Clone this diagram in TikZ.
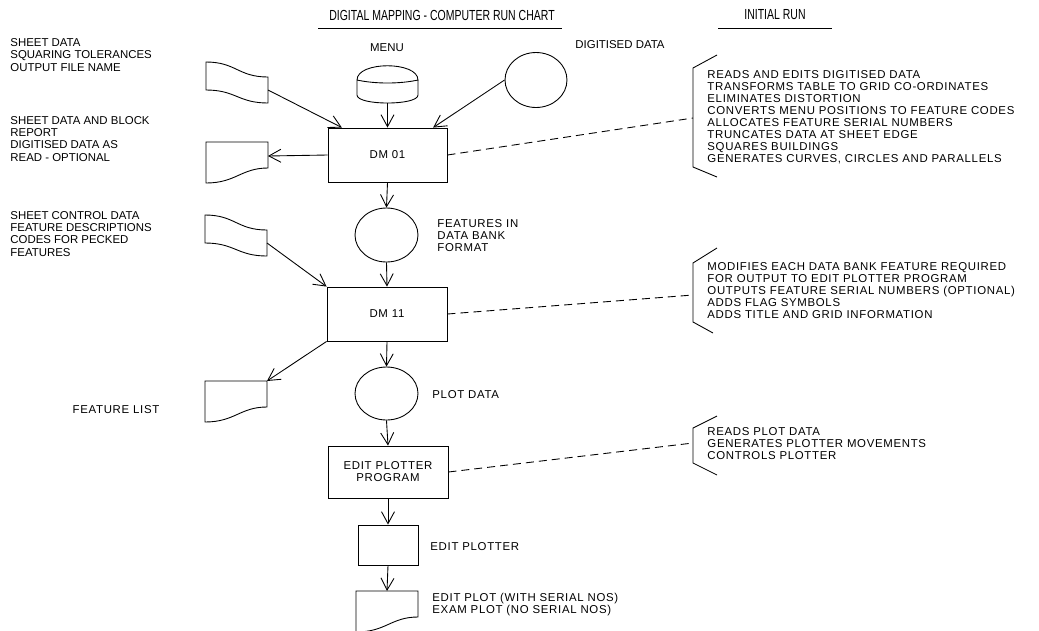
\documentclass[tikz,border=0pt]{standalone}
\usepackage{fontspec}
\newfontfamily\plotfont{Liberation Sans}
\newfontfamily\widefont[LetterSpace=6]{Liberation Sans}
\newfontfamily\titlefont[FakeStretch=0.72]{Liberation Sans}
\usetikzlibrary{arrows.meta,shapes.geometric}
\tikzstyle{txt}=[font=\plotfont\fontsize{6.5}{7}\selectfont,inner sep=0pt,align=left]
\tikzstyle{rtxt}=[font=\widefont\fontsize{6.5}{6.83}\selectfont,inner sep=0pt,align=left]
\tikzstyle{ttl}=[font=\titlefont\fontsize{8.3}{9}\selectfont,inner sep=0pt]
\tikzstyle{box}=[rectangle,draw,inner sep=0pt,font=\widefont\fontsize{6.5}{6.83}\selectfont,align=center]
\tikzstyle{store}=[ellipse,draw,inner sep=0pt]
\tikzstyle{arr}=[->,>={Straight Barb[length=2.4mm,width=2.6mm]},draw]
\tikzstyle{dsh}=[draw,dash pattern=on 1.6mm off 1mm]
\tikzset{
  tape/.pic={
    \draw (0,0) .. controls (30,0) and (32,15) .. (62,15) -- (62,41)
      .. controls (32,41) and (30,28) .. (0,28) -- cycle;
    \coordinate (-out) at (62,28);
  },
  doc/.pic={
    \draw (0,0) -- (62,0) -- (62,26) .. controls (35,26) and (30,41) .. (0,41) -- cycle;
    \coordinate (-ne) at (62,0);
    \coordinate (-e) at (62,14);
    \coordinate (-n) at (31,0);
  }
}

\begin{document}
\begin{tikzpicture}[x=0.02cm,y=-0.02cm,line width=0.5pt]
  \useasboundingbox (0,0) rectangle (1039,630);
  % headings
  \node[ttl] (title) at (442,15) {DIGITAL MAPPING - COMPUTER RUN CHART};
  \node[ttl] (run) at (775,15) {INITIAL RUN};
  \draw (318,28) -- (562,28);
  \draw (718,28) -- (832,28);

  % inputs and outputs
  \pic (in1) at (206,62) {tape};
  \pic (out1) at (206,142) {doc};
  \pic (in2) at (205,215) {tape};
  \pic (out2) at (205,381) {doc};
  \pic (out3) at (356,591) {doc};
  \draw (357,80) .. controls (357,61) and (418,61) .. (418,80)
        .. controls (400,84) and (375,84) .. (357,80) -- (357,95)
        .. controls (357,105.7) and (418,105.7) .. (418,95) -- (418,80);
  \coordinate (menu) at (387.5,103);

  % run chart
  \node[box,minimum width=23.8mm,minimum height=10.8mm] (dm01) at (387.5,155) {DM 01};
  \node[box,minimum width=24mm,minimum height=10.8mm] (dm11) at (387,314) {DM 11};
  \node[box,minimum width=24mm,minimum height=10.4mm] (edp) at (388,472) {EDIT PLOTTER\\PROGRAM};
  \node[box,minimum width=12mm,minimum height=8mm] (ep) at (388,545) {};
  \node[store,minimum width=12.4mm,minimum height=11mm] (dig) at (536,80) {};
  \node[store,minimum width=12.6mm,minimum height=10.8mm] (feat) at (386.5,235) {};
  \node[store,minimum width=12.6mm,minimum height=10.6mm] (plot) at (386.5,393.5) {};

  % labels (base = last line)
  \node[txt,anchor=base west] (lt1) at (10,71) {SHEET DATA\\SQUARING TOLERANCES\\OUTPUT FILE NAME};
  \node[txt,anchor=base west] (lt2) at (10,161) {SHEET DATA AND BLOCK\\REPORT\\DIGITISED DATA AS\\READ - OPTIONAL};
  \node[txt,anchor=base west] (lt3) at (10,256) {SHEET CONTROL DATA\\FEATURE DESCRIPTIONS\\CODES FOR PECKED\\FEATURES};
  \node[rtxt] (lt4) at (116,410) {FEATURE LIST};
  \node[txt] (menulbl) at (387,48) {MENU};
  \node[txt] (diglbl) at (620,45) {DIGITISED DATA};
  \node[rtxt,anchor=base west] (featlbl) at (437,251) {FEATURES IN\\DATA BANK\\FORMAT};
  \node[rtxt,anchor=west] (plotlbl) at (432,395) {PLOT DATA};
  \node[rtxt,anchor=west] (eplbl) at (430,547) {EDIT PLOTTER};
  \node[rtxt,anchor=base west] (out3lbl) at (432,613) {EDIT PLOT (WITH SERIAL NOS)\\EXAM PLOT (NO SERIAL NOS)};

  % notes
  \draw (717,55) -- (693,68) -- (693,167) -- (717,177);
  \coordinate (b1) at (693,118);
  \node[rtxt,anchor=base west] (rt1) at (707,162) {READS AND EDITS DIGITISED DATA\\TRANSFORMS TABLE TO GRID CO-ORDINATES\\ELIMINATES DISTORTION\\CONVERTS MENU POSITIONS TO FEATURE CODES\\ALLOCATES FEATURE SERIAL NUMBERS\\TRUNCATES DATA AT SHEET EDGE\\SQUARES BUILDINGS\\GENERATES CURVES, CIRCLES AND PARALLELS};
  \draw (717,248) -- (693,263) -- (693,322) -- (713,333);
  \coordinate (b2) at (693,295);
  \node[rtxt,anchor=base west] (rt2) at (707,318) {MODIFIES EACH DATA BANK FEATURE REQUIRED\\FOR OUTPUT TO EDIT PLOTTER PROGRAM\\OUTPUTS FEATURE SERIAL NUMBERS (OPTIONAL)\\ADDS FLAG SYMBOLS\\ADDS TITLE AND GRID INFORMATION};
  \draw (717,416) -- (693,428) -- (693,463) -- (717,475);
  \coordinate (b3) at (693,443);
  \node[rtxt,anchor=base west] (rt3) at (707,459) {READS PLOT DATA\\GENERATES PLOTTER MOVEMENTS\\CONTROLS PLOTTER};

  % flow
  \draw[arr] (in1-out) -- (dm01.149);
  \draw[arr] (menu) -- (dm01.north);
  \draw[arr] (dig.west) -- (dm01.31);
  \draw[arr] (dm01.west) -- (out1-e);
  \draw[arr] (dm01.south) -- (feat.north);
  \draw[arr] (in2-out) -- (dm11.north west);
  \draw[arr] (feat.south) -- (dm11.north);
  \draw[arr] (dm11.south west) -- (out2-ne);
  \draw[arr] (dm11.south) -- (plot.north);
  \draw[arr] (plot.south) -- (edp.north);
  \draw[arr] (edp.south) -- (ep.north);
  \draw[arr] (ep.south) -- (out3-n);
  \draw[dsh] (dm01.east) -- (b1);
  \draw[dsh] (dm11.east) -- (b2);
  \draw[dsh] (edp.east) -- (b3);
\end{tikzpicture}
\end{document}
